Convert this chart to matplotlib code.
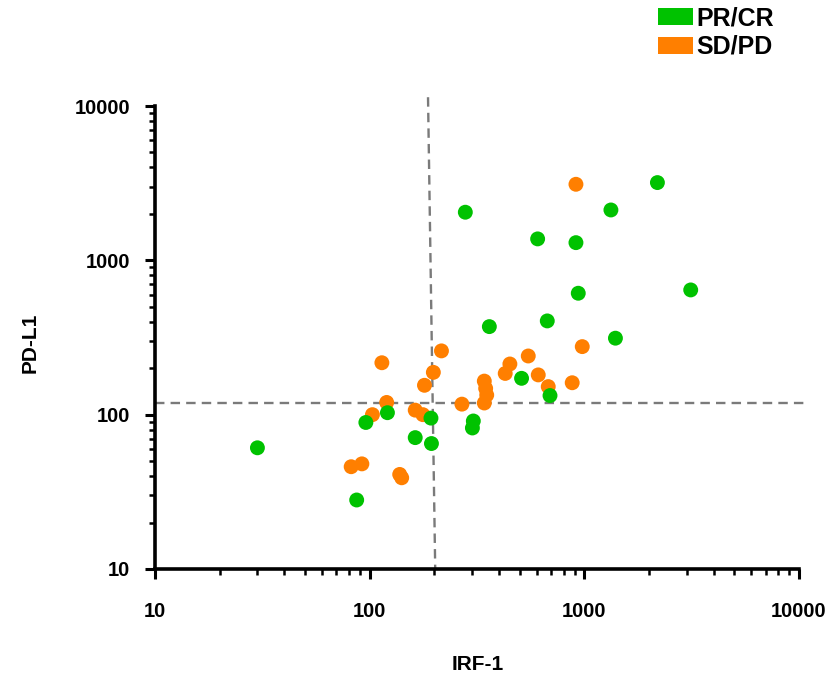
import matplotlib
matplotlib.use('Agg')
import matplotlib.pyplot as plt
from matplotlib.patches import Patch
from matplotlib.ticker import LogLocator, NullFormatter, FixedLocator, FixedFormatter

plt.rcParams['font.family'] = ['Liberation Sans', 'DejaVu Sans']

# PR/CR group (green)
pr_irf1 = [30, 87, 96, 121, 163, 193, 194, 304, 301, 279, 361, 510, 606, 672,
           692, 914, 937, 1330, 1396, 2190, 3130]
pr_pdl1 = [61, 28, 89, 103, 71, 95, 65, 91, 82, 2050, 372, 172, 1377, 405,
           133, 1302, 612, 2120, 313, 3190, 643]

# SD/PD group (orange)
sd_irf1 = [914, 114, 216, 198, 180, 120, 103, 163, 177, 269, 342, 347, 351, 342,
           450, 428, 548, 610, 679, 878, 978, 82, 92, 138, 141]
sd_pdl1 = [3110, 217, 259, 188, 155, 120, 100, 107, 100, 117, 165, 148, 134, 119,
           213, 185, 240, 181, 152, 161, 276, 46, 48, 41, 39]

# cut-off reference lines
irf1_cut_top, irf1_cut_bottom = 187, 202
pdl1_cut = 119

ticks = [10, 100, 1000, 10000]
tick_labels = ['10', '100', '1000', '10000']

green = '#00c200'
orange = '#ff7f00'

fig = plt.figure(figsize=(8.4, 6.83), dpi=100)
ax = fig.add_axes([155/840, 1-569/683, (799-155)/840, (569-106)/683])
ax.set_xscale('log')
ax.set_yscale('log')
ax.set_xlim(10, 10000)
ax.set_ylim(10, 10000)

# reference lines
ax.plot([10, 10650], [pdl1_cut, pdl1_cut], ls=(0, (4, 2.6)), color='#7a7a7a',
        lw=1.7, clip_on=False, zorder=1)
ax.plot([irf1_cut_top, irf1_cut_bottom], [11400, 10], ls=(0, (4, 2.6)),
        color='#7a7a7a', lw=1.7, clip_on=False, zorder=1)

ax.scatter(sd_irf1, sd_pdl1, s=115, color=orange, edgecolors='none', zorder=3,
           clip_on=False)
ax.scatter(pr_irf1, pr_pdl1, s=115, color=green, edgecolors='none', zorder=4,
           clip_on=False)

for side in ['top', 'right']:
    ax.spines[side].set_visible(False)
for side in ['left', 'bottom']:
    ax.spines[side].set_linewidth(2.6)

for axis in (ax.xaxis, ax.yaxis):
    axis.set_major_locator(FixedLocator(ticks))
    axis.set_major_formatter(FixedFormatter(tick_labels))
    axis.set_minor_locator(LogLocator(base=10, subs=range(2, 10)))
    axis.set_minor_formatter(NullFormatter())

ax.tick_params(which='major', direction='out', length=7, width=2.2,
               labelsize=14.5)
ax.tick_params(which='minor', direction='out', length=4, width=1.8)
ax.tick_params(axis='x', which='major', pad=17)
ax.tick_params(axis='y', which='major', pad=11)
for lab in ax.get_xticklabels() + ax.get_yticklabels():
    lab.set_fontweight('bold')

fig.text(478/840, 1-665/683, 'IRF-1', ha='center', va='center',
         fontsize=15, fontweight='bold')
fig.text(30/840, 1-343/683, 'PD-L1', ha='center', va='center',
         rotation=90, fontsize=15, fontweight='bold')

handles = [Patch(facecolor=green, edgecolor='none', label='PR/CR'),
           Patch(facecolor=orange, edgecolor='none', label='SD/PD')]
fig.legend(handles=handles, loc='upper left',
           bbox_to_anchor=(658/840, 1-6/683), frameon=False,
           prop={'weight': 'bold', 'size': 18}, handlelength=1.4,
           handleheight=0.7, handletextpad=0.15, labelspacing=0.2,
           borderpad=0, borderaxespad=0)

fig.savefig('out.png', dpi=100)
